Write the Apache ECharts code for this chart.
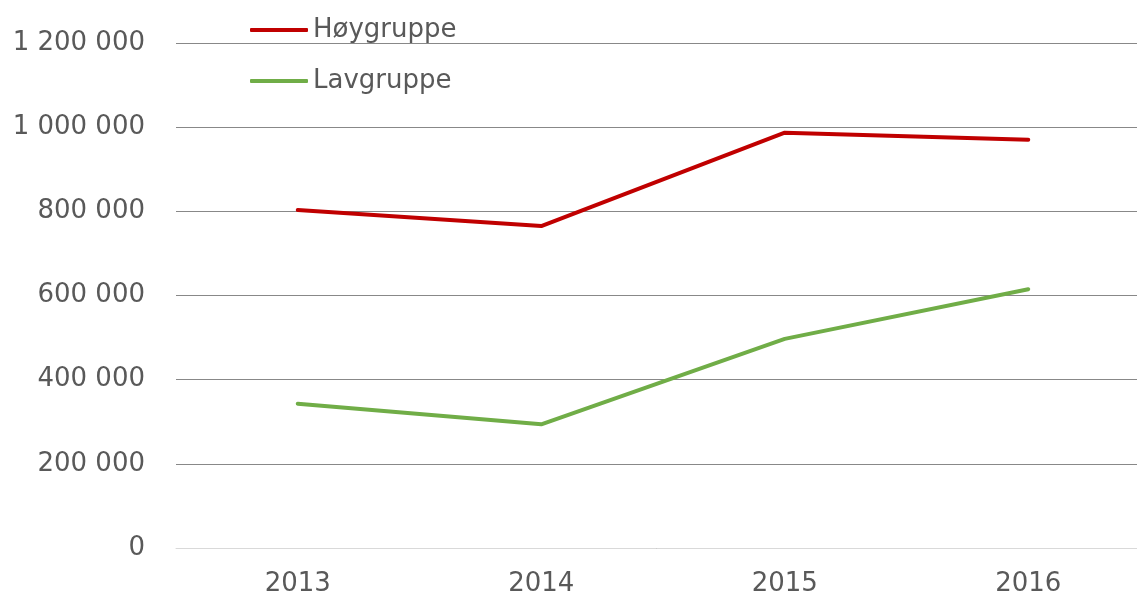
<!DOCTYPE html>
<html>
<head>
<meta charset="utf-8">
<script src="https://cdn.jsdelivr.net/npm/echarts@6/dist/echarts.min.js"></script>
<style>
  html, body { margin: 0; padding: 0; background: #fff; }
  #main { width: 1137px; height: 599px; }
</style>
</head>
<body>
<div id="main"></div>
<script>
// år på x-aksen
const years = ['2013', '2014', '2015', '2016'];
// verdier lest av bildet
const hoygruppe = [803000, 765000, 987000, 970000];
const lavgruppe = [343000, 294000, 497000, 615000];
const seriesNames = ['Høygruppe', 'Lavgruppe'];

const textColor = '#595959';
const font = 'DejaVu Sans';

// tusenskille med mellomrom
function formatNumber(v) {
  return String(v).replace(/\B(?=(\d{3})+(?!\d))/g, ' ');
}

const chart = echarts.init(document.getElementById('main'));

chart.setOption({
  backgroundColor: '#fff',
  animation: false,
  grid: { left: 176, top: 43, bottom: 51, width: 974, outerBoundsMode: 'none' },
  legend: {
    orient: 'vertical',
    left: 250,
    top: 17,
    padding: 0,
    icon: 'roundRect',
    itemWidth: 58,
    itemHeight: 4,
    itemGap: 25,
    textStyle: { color: textColor, fontSize: 26, fontFamily: font },
    data: seriesNames
  },
  xAxis: {
    type: 'category',
    data: years,
    boundaryGap: true,
    axisLine: { lineStyle: { color: '#d9d9d9', width: 1 } },
    axisTick: { show: false },
    axisLabel: { color: textColor, fontSize: 26, fontFamily: font, margin: 23 }
  },
  yAxis: {
    type: 'value',
    min: 0,
    max: 1200000,
    interval: 200000,
    axisLine: { show: false },
    axisTick: { show: false },
    splitLine: { lineStyle: { color: '#888888', width: 1 } },
    axisLabel: {
      color: textColor, fontSize: 26, fontFamily: font, margin: 31,
      formatter: formatNumber
    }
  },
  series: [
    {
      name: seriesNames[0],
      type: 'line',
      data: hoygruppe,
      showSymbol: false,
      symbol: 'none',
      itemStyle: { color: '#c00000' },
      lineStyle: { color: '#c00000', width: 4, cap: 'round', join: 'round' }
    },
    {
      name: seriesNames[1],
      type: 'line',
      data: lavgruppe,
      showSymbol: false,
      symbol: 'none',
      itemStyle: { color: '#70ad47' },
      lineStyle: { color: '#70ad47', width: 4, cap: 'round', join: 'round' }
    }
  ]
});
</script>
</body>
</html>
